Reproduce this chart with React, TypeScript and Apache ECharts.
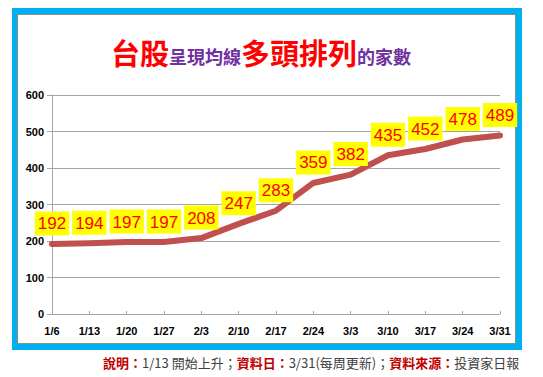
import React, { useEffect, useRef } from "react";
import * as echarts from "echarts";

const categories = ["1/6", "1/13", "1/20", "1/27", "2/3", "2/10", "2/17", "2/24", "3/3", "3/10", "3/17", "3/24", "3/31"];
const counts = [192, 194, 197, 197, 208, 247, 283, 359, 382, 435, 452, 478, 489];
const yMin = 0;
const yMax = 600;
const yStep = 100;

const CJK = '"Noto Sans CJK TC", "Noto Sans CJK SC", sans-serif';
const NUM = '"Liberation Sans", Arial, sans-serif';

export default function App() {
  const ref = useRef<HTMLDivElement>(null);
  useEffect(() => {
    if (!ref.current) return;
    const chart = echarts.init(ref.current, null, { renderer: "svg" });
    chart.setOption({
      animation: false,
      backgroundColor: "transparent",
      title: {
        left: 106,
        top: 32,
        text: "{r|台股}{p|呈現均線}{r|多頭排列}{p|的家數}",
        textStyle: {
          rich: {
            r: { fontFamily: CJK, fontWeight: "bold", fontSize: 29, color: "#ff0000", verticalAlign: "bottom" },
            p: { fontFamily: CJK, fontWeight: "bold", fontSize: 18, color: "#7030a0", verticalAlign: "bottom", padding: [0, 0, 1, 0] },
          },
        },
      },
      grid: { left: 52, right: 43, top: 95, bottom: 63, containLabel: false },
      xAxis: {
        type: "category",
        data: categories,
        boundaryGap: false,
        axisLine: { lineStyle: { color: "#a6a6a6", width: 1 } },
        axisTick: { show: true, inside: true, length: 3, lineStyle: { color: "#a6a6a6" } },
        axisLabel: { color: "#000", fontFamily: NUM, fontWeight: "bold", fontSize: 11, margin: 11 },
      },
      yAxis: {
        type: "value",
        min: yMin,
        max: yMax,
        interval: yStep,
        axisLine: { show: true, lineStyle: { color: "#a6a6a6", width: 1 } },
        axisTick: { show: true, length: 5, lineStyle: { color: "#a6a6a6" } },
        splitLine: { lineStyle: { color: "#a6a6a6", width: 1 } },
        axisLabel: { color: "#000", fontFamily: NUM, fontWeight: "bold", fontSize: 11, margin: 8 },
      },
      series: [
        {
          type: "line",
          data: counts,
          symbol: "circle",
          symbolSize: 1,
          showSymbol: true,
          itemStyle: { color: "#c0504d" },
          lineStyle: { color: "#c0504d", width: 6, cap: "round", join: "round" },
          label: {
            show: true,
            position: "top",
            distance: 8,
            color: "#ff0000",
            fontFamily: NUM,
            fontSize: 17,
            backgroundColor: "#ffff00",
            padding: [4, 3, 3, 3],
          },
        },
      ],
      graphic: [
        {
          type: "text",
          left: 103,
          top: 356,
          style: {
            text: "{r|說明：}{g|1/13 開始上升；}{r|資料日：}{g|3/31(每周更新)；}{r|資料來源：}{g|投資家日報}",
            rich: {
              r: { fontFamily: CJK, fontSize: 13, fill: "#c00000", fontWeight: "bold" },
              g: { fontFamily: CJK, fontSize: 13, fill: "#404040" },
            },
          },
        },
      ],
    });
    return () => chart.dispose();
  }, []);
  return (
    <div style={{ position: "absolute", left: 0, top: 0, width: 543, height: 377, background: "#fff" }}>
      <div style={{ position: "absolute", left: 12, top: 8, width: 510, height: 342, background: "#00b0f0" }} />
      <div
        style={{
          position: "absolute",
          left: 17,
          top: 14,
          width: 499,
          height: 330,
          background: "#fff",
          border: "1px solid #8c8c8c",
          boxSizing: "border-box",
        }}
      />
      <div ref={ref} style={{ position: "absolute", left: 0, top: 0, width: 543, height: 377 }} />
    </div>
  );
}
